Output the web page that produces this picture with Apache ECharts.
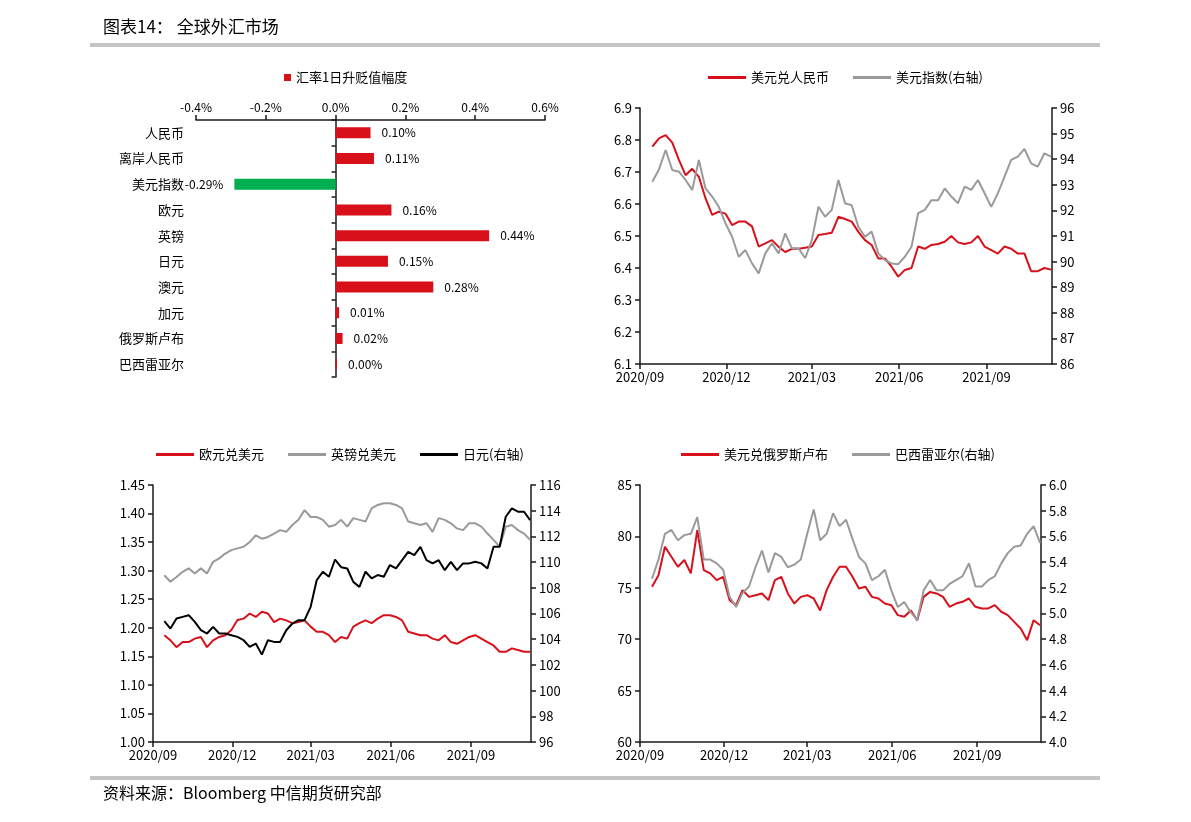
<!DOCTYPE html>
<html><head><meta charset="utf-8">
<script src="https://cdn.jsdelivr.net/npm/echarts@6/dist/echarts.min.js"></script>
<style>html,body{margin:0;padding:0;background:#fff}#c{width:1191px;height:822px}</style>
</head><body><div id="c"></div>
<script>
const FONT = '"Noto Sans CJK SC","Noto Sans",sans-serif';
const RED = '#D7101A', GRAY = '#9A9A9A', BLACK = '#000000', GREEN = '#00B050';

// ---- bar chart data (汇率1日升贬值幅度, %) ----
const barCategories = ['人民币','离岸人民币','美元指数','欧元','英镑','日元','澳元','加元','俄罗斯卢布','巴西雷亚尔'];
const barValues = [0.10, 0.11, -0.29, 0.16, 0.44, 0.15, 0.28, 0.01, 0.02, 0.004];
const barTicks = [-0.4, 0.6, 0.2]; // min, max, step

// ---- time series (weekly) ----
const dates = ['2020-09-14','2020-09-21','2020-09-28','2020-10-05','2020-10-12','2020-10-19','2020-10-26','2020-11-02','2020-11-09','2020-11-16','2020-11-23','2020-11-30','2020-12-07','2020-12-14','2020-12-21','2020-12-28',
'2021-01-04','2021-01-11','2021-01-18','2021-01-25','2021-02-01','2021-02-08','2021-02-15','2021-02-22','2021-03-01','2021-03-08','2021-03-15','2021-03-22','2021-03-29','2021-04-05','2021-04-12','2021-04-19','2021-04-26',
'2021-05-03','2021-05-10','2021-05-17','2021-05-24','2021-05-31','2021-06-07','2021-06-14','2021-06-21','2021-06-28','2021-07-05','2021-07-12','2021-07-19','2021-07-26',
'2021-08-02','2021-08-09','2021-08-16','2021-08-23','2021-08-30','2021-09-06','2021-09-13','2021-09-20','2021-09-27','2021-10-04','2021-10-11','2021-10-18','2021-10-25','2021-11-01','2021-11-08'];

const usdCny = [6.779,6.805,6.815,6.792,6.738,6.69,6.71,6.685,6.618,6.566,6.576,6.57,6.534,6.545,6.545,6.53,6.467,6.477,6.487,6.466,6.45,6.46,6.46,6.463,6.467,6.503,6.506,6.51,6.56,6.553,6.545,6.513,6.487,6.472,6.43,6.43,6.404,6.373,6.394,6.40,6.467,6.46,6.472,6.475,6.482,6.50,6.48,6.475,6.48,6.50,6.467,6.456,6.445,6.467,6.46,6.445,6.445,6.39,6.39,6.40,6.395];
const dxy = [93.12,93.6,94.36,93.58,93.51,93.19,92.8,93.97,92.86,92.54,92.14,91.5,90.97,90.19,90.45,89.93,89.54,90.32,90.71,90.32,91.1,90.52,90.52,90.13,90.84,92.14,91.75,92.02,93.19,92.28,92.2,91.36,90.97,91.17,90.32,90.06,89.93,89.9,90.19,90.58,91.89,92.02,92.4,92.4,92.86,92.54,92.28,92.93,92.8,93.19,92.67,92.14,92.67,93.32,93.97,94.1,94.4,93.84,93.71,94.23,94.1];

const eurUsd = [1.187,1.178,1.166,1.175,1.175,1.181,1.184,1.166,1.178,1.184,1.187,1.196,1.2135,1.216,1.225,1.219,1.228,1.225,1.21,1.216,1.213,1.208,1.21,1.213,1.202,1.193,1.193,1.187,1.175,1.184,1.181,1.202,1.208,1.213,1.208,1.216,1.222,1.222,1.219,1.213,1.193,1.19,1.187,1.187,1.181,1.178,1.187,1.175,1.172,1.178,1.184,1.187,1.181,1.175,1.169,1.158,1.158,1.164,1.161,1.158,1.158];
const gbpUsd = [1.292,1.2805,1.289,1.298,1.304,1.295,1.304,1.295,1.3155,1.3215,1.33,1.336,1.339,1.342,1.35,1.362,1.356,1.359,1.365,1.371,1.368,1.38,1.389,1.406,1.394,1.394,1.389,1.377,1.38,1.389,1.377,1.392,1.389,1.386,1.409,1.415,1.418,1.418,1.415,1.409,1.386,1.383,1.38,1.383,1.368,1.392,1.389,1.383,1.374,1.371,1.383,1.383,1.377,1.365,1.354,1.342,1.377,1.38,1.371,1.365,1.354];
const usdJpy = [105.4,104.83,105.61,105.74,105.87,105.35,104.7,104.44,104.96,104.44,104.44,104.31,104.18,103.92,103.4,103.66,102.8,103.92,103.79,103.79,104.7,105.22,105.48,105.48,106.52,108.6,109.25,108.86,110.2,109.6,109.5,108.46,108.07,109.25,108.73,108.99,108.86,109.77,109.51,110.15,110.8,110.54,111.19,110.15,109.9,110.15,109.37,110.02,109.37,109.9,109.9,110.02,109.9,109.5,111.19,111.19,113.53,114.18,113.92,113.92,113.27];

const usdRub = [75.1,76.23,79.0,78.02,77.05,77.7,76.4,80.62,76.72,76.4,75.75,76.07,73.8,73.31,74.77,74.12,74.28,74.45,73.8,75.75,76.07,74.45,73.47,74.12,74.28,73.96,72.8,74.77,76.07,77.05,77.05,76.07,74.94,75.1,74.12,73.96,73.47,73.31,72.34,72.18,72.8,71.85,74.12,74.6,74.45,74.12,73.15,73.47,73.64,73.96,73.15,72.99,72.99,73.31,72.67,72.34,71.69,71.04,69.9,71.85,71.36];
const usdBrl = [5.27,5.42,5.62,5.65,5.57,5.61,5.62,5.75,5.42,5.42,5.39,5.34,5.13,5.05,5.16,5.21,5.36,5.49,5.32,5.47,5.44,5.36,5.38,5.42,5.62,5.81,5.57,5.62,5.78,5.68,5.73,5.58,5.44,5.39,5.26,5.29,5.34,5.18,5.05,5.09,5.01,4.95,5.18,5.26,5.18,5.18,5.23,5.26,5.29,5.39,5.21,5.21,5.26,5.29,5.39,5.47,5.52,5.53,5.62,5.68,5.55];

const xTickDates = ['2020-09-01','2020-12-01','2021-03-01','2021-06-01','2021-09-01'];
const xRange = ['2020-09-01','2021-11-09'];

const ts = s => echarts.number.parseDate(s).getTime();
const pairs = arr => dates.map((d, i) => [ts(d), arr[i]]);
const tickVals = xTickDates.map(ts);
const fmtMonth = v => { const d = new Date(v); return d.getFullYear() + '/' + String(d.getMonth() + 1).padStart(2, '0'); };

const axisLineStyle = {color: '#1a1a1a', width: 1.5};
const labelStyle = {color: '#000', fontSize: 13, fontFamily: FONT};

function timeAxis(gi) {
  return {
    type: 'value', gridIndex: gi, min: ts(xRange[0]), max: ts(xRange[1]), scale: true,
    axisLine: {show: true, onZero: false, lineStyle: axisLineStyle},
    axisTick: {show: true, length: 5, customValues: tickVals, lineStyle: axisLineStyle},
    axisLabel: Object.assign({customValues: tickVals, margin: 7, hideOverlap: false, formatter: fmtMonth}, labelStyle),
    splitLine: {show: false}
  };
}
function valAxis(gi, pos, min, max, step, dec) {
  return {
    type: 'value', gridIndex: gi, position: pos, min: min, max: max, interval: step,
    axisLine: {show: true, onZero: false, lineStyle: axisLineStyle},
    axisTick: {show: true, length: 5, lineStyle: axisLineStyle},
    axisLabel: Object.assign({margin: 8, formatter: v => v.toFixed(dec)}, labelStyle),
    splitLine: {show: false}
  };
}
function lineSeries(name, arr, color, xi, yi, z) {
  return {name: name, type: 'line', xAxisIndex: xi, yAxisIndex: yi, data: pairs(arr),
    showSymbol: false, symbol: 'none', lineStyle: {color: color, width: 2}, itemStyle: {color: color},
    z: z, animation: false};
}
function legendAt(left, top, names) {
  return {left: left, top: top, data: names, icon: 'rect', itemWidth: 38, itemHeight: 3, itemGap: 24,
    textStyle: {color: '#000', fontSize: 13, fontFamily: FONT}, selectedMode: false};
}

const chart = echarts.init(document.getElementById('c'), null, {renderer: 'canvas'});
chart.setOption({
  animation: false,
  backgroundColor: '#fff',
  graphic: [
    {type: 'text', left: 103, top: 18, style: {text: '图表14： 全球外汇市场', font: '17px ' + FONT, fill: '#000'}},
    {type: 'rect', shape: {x: 90, y: 43, width: 1010, height: 4}, style: {fill: '#C4C4C4'}},
    {type: 'rect', shape: {x: 90, y: 776, width: 1010, height: 4}, style: {fill: '#C4C4C4'}},
    {type: 'text', left: 103, top: 785, style: {text: '资料来源：Bloomberg 中信期货研究部', font: '16px ' + FONT, fill: '#000'}}
  ],
  legend: [
    {left: 279, top: 66, data: ['汇率1日升贬值幅度'], icon: 'rect', itemWidth: 7, itemHeight: 7, selectedMode: false,
      textStyle: {color: '#000', fontSize: 13, fontFamily: FONT}},
    legendAt(703, 66, ['美元兑人民币', '美元指数(右轴)']),
    legendAt(151, 443, ['欧元兑美元', '英镑兑美元', '日元(右轴)']),
    legendAt(676, 443, ['美元兑俄罗斯卢布', '巴西雷亚尔(右轴)'])
  ],
  grid: [
    {left: 196, top: 120, width: 349, height: 257, outerBoundsMode: 'none', containLabel: false},
    {left: 640, top: 108, width: 412, height: 256, outerBoundsMode: 'none'},
    {left: 153, top: 485, width: 378, height: 257, outerBoundsMode: 'none'},
    {left: 640, top: 485, width: 401, height: 257, outerBoundsMode: 'none'}
  ],
  xAxis: [
    {type: 'value', gridIndex: 0, position: 'top', min: barTicks[0], max: barTicks[1], interval: barTicks[2],
      axisLine: {show: true, lineStyle: axisLineStyle},
      axisTick: {show: true, length: 5, lineStyle: axisLineStyle},
      axisLabel: Object.assign({margin: 7, formatter: v => v.toFixed(1) + '%'}, labelStyle, {fontSize: 12}),
      splitLine: {show: false}},
    timeAxis(1), timeAxis(2), timeAxis(3)
  ],
  yAxis: [
    {type: 'category', gridIndex: 0, data: barCategories, inverse: true,
      axisLine: {show: true, onZero: true, lineStyle: axisLineStyle},
      axisTick: {show: true, length: 4, lineStyle: axisLineStyle},
      axisLabel: {show: false}},
    valAxis(1, 'left', 6.1, 6.9, 0.1, 1),
    valAxis(1, 'right', 86, 96, 1, 0),
    valAxis(2, 'left', 1.00, 1.45, 0.05, 2),
    valAxis(2, 'right', 96, 116, 2, 0),
    valAxis(3, 'left', 60, 85, 5, 0),
    valAxis(3, 'right', 4.0, 6.0, 0.2, 1),
    {type: 'category', gridIndex: 0, data: barCategories, inverse: true, position: 'left',
      axisLine: {show: false, onZero: false}, axisTick: {show: false},
      axisLabel: Object.assign({margin: 12}, labelStyle)}
  ],
  series: [
    {name: '汇率1日升贬值幅度', type: 'bar', xAxisIndex: 0, yAxisIndex: 0, barWidth: 11,
      itemStyle: {color: RED},
      data: barValues.map(v => ({value: v,
        itemStyle: {color: v < 0 ? GREEN : RED},
        label: {position: v < 0 ? 'left' : 'right'}})),
      label: {show: true, distance: 11, color: '#000', fontSize: 12, fontFamily: FONT,
        formatter: p => p.value.toFixed(2) + '%'}},
    lineSeries('美元兑人民币', usdCny, RED, 1, 1, 3),
    lineSeries('美元指数(右轴)', dxy, GRAY, 1, 2, 4),
    lineSeries('欧元兑美元', eurUsd, RED, 2, 3, 3),
    lineSeries('英镑兑美元', gbpUsd, GRAY, 2, 3, 4),
    lineSeries('日元(右轴)', usdJpy, BLACK, 2, 4, 5),
    lineSeries('美元兑俄罗斯卢布', usdRub, RED, 3, 5, 3),
    lineSeries('巴西雷亚尔(右轴)', usdBrl, GRAY, 3, 6, 4)
  ]
});
</script>
</body></html>
